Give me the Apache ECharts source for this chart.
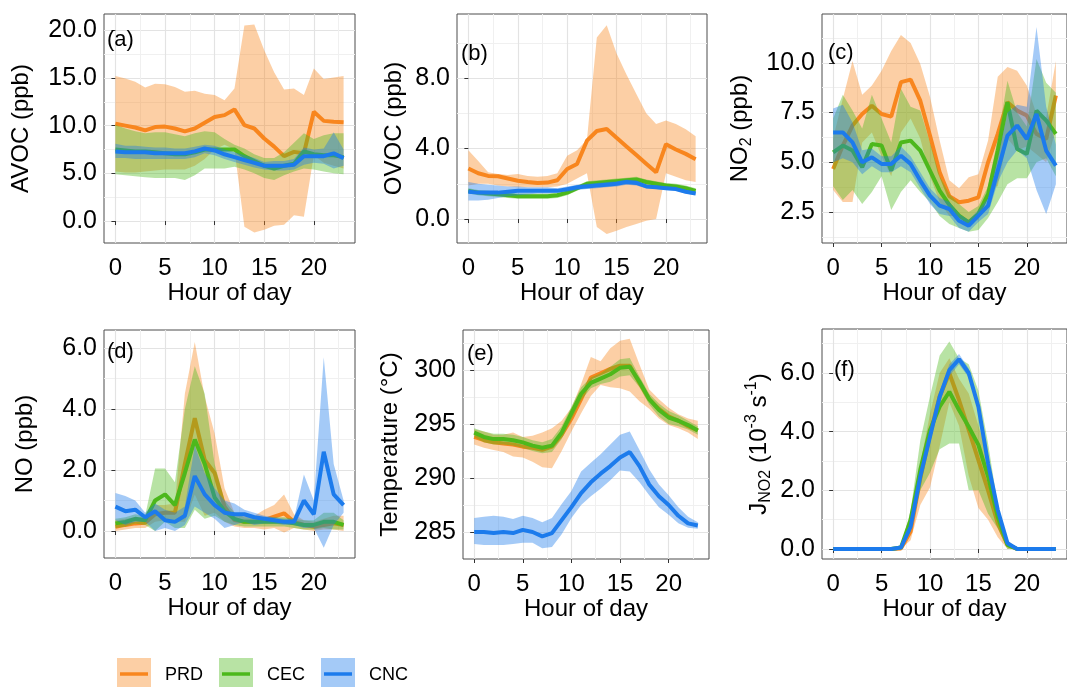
<!DOCTYPE html>
<html>
<head>
<meta charset="utf-8">
<script src="https://cdn.jsdelivr.net/npm/echarts@6/dist/echarts.min.js"></script>
<style>
  html, body { margin: 0; padding: 0; background: #fff; }
  #main { width: 1067px; height: 687px; }
</style>
</head>
<body>
<div id="main"></div>
<script>
const hours = [0, 1, 2, 3, 4, 5, 6, 7, 8, 9, 10, 11, 12, 13, 14, 15, 16, 17, 18, 19, 20, 21, 22, 23];
const hourTicks = [0, 5, 10, 15, 20];
const hourMinor = [2.5, 7.5, 12.5, 17.5, 22.5];

// (a) AVOC
const avocPrd = [10.2, 10.0, 9.8, 9.5, 9.85, 9.9, 9.7, 9.4, 9.7, 10.3, 10.9, 11.1, 11.7, 10.05, 9.7, 8.65, 7.8, 6.8, 7.25, 7.1, 11.45, 10.5, 10.4, 10.35];
const avocPrdLo = [5.2, 5.1, 5.1, 5.2, 5.3, 5.4, 5.4, 5.4, 5.8, 6.5, 7.5, 8.0, 7.5, -0.6, -1.2, -0.9, -0.5, -0.4, 0.6, 0.45, 6.9, 6.1, 5.8, 5.5];
const avocPrdHi = [15.2, 14.95, 14.6, 14.0, 14.4, 14.35, 14.05, 13.55, 13.65, 13.35, 13.2, 12.65, 13.9, 20.5, 20.6, 17.9, 15.6, 13.8, 13.9, 13.2, 16.0, 14.9, 15.05, 15.2];
const avocCec = [7.5, 7.4, 7.3, 7.3, 7.2, 7.1, 7.0, 7.0, 7.2, 7.5, 7.5, 7.5, 7.5, 6.8, 6.3, 5.8, 5.5, 5.8, 6.0, 7.3, 7.0, 6.9, 6.9, 6.7];
const avocCecLo = [4.9, 4.8, 4.7, 4.6, 4.5, 4.5, 4.5, 4.3, 4.8, 5.5, 5.5, 5.5, 5.7, 5.4, 5.0, 4.5, 4.3, 4.8, 5.2, 5.5, 5.4, 5.2, 5.0, 4.9];
const avocCecHi = [10.1, 9.7, 9.4, 9.2, 9.3, 9.3, 9.1, 8.9, 9.2, 9.4, 9.3, 8.6, 8.0, 7.6, 7.0, 6.6, 6.6, 7.2, 8.2, 9.2, 8.6, 9.0, 9.2, 9.2];
const avocCnc = [7.3, 7.2, 7.2, 7.2, 7.1, 7.1, 7.1, 7.1, 7.3, 7.6, 7.4, 7.0, 6.7, 6.4, 6.1, 5.8, 5.8, 5.8, 5.9, 6.8, 6.8, 6.8, 7.1, 6.6];
const avocCncLo = [6.6, 6.6, 6.5, 6.5, 6.5, 6.5, 6.5, 6.5, 6.7, 7.1, 6.9, 6.5, 6.2, 5.9, 5.6, 5.4, 5.3, 5.3, 5.4, 5.9, 6.1, 6.0, 5.5, 5.8];
const avocCncHi = [8.1, 7.9, 7.9, 7.8, 7.7, 7.7, 7.6, 7.6, 7.8, 8.0, 7.9, 7.5, 7.2, 6.9, 6.6, 6.2, 6.3, 6.3, 6.5, 7.7, 7.5, 7.6, 9.3, 7.5];

// (b) OVOC
const ovocPrd = [2.87, 2.6, 2.45, 2.43, 2.3, 2.17, 2.1, 2.05, 2.07, 2.2, 2.84, 3.12, 4.45, 5.0, 5.11, 4.61, 4.12, 3.63, 3.14, 2.65, 4.25, 3.95, 3.7, 3.4];
const ovocPrdLo = [1.9, 2.0, 2.0, 1.9, 1.85, 1.8, 1.8, 1.8, 1.8, 1.85, 2.0, 2.3, 2.6, -0.45, -0.85, -0.66, -0.45, -0.28, -0.1, 0.0, 2.6, 2.4, 2.2, 2.1];
const ovocPrdHi = [3.9, 3.3, 2.65, 2.55, 2.5, 2.55, 2.45, 2.4, 2.45, 2.6, 3.6, 3.9, 4.5, 10.3, 11.0, 9.4, 8.2, 7.1, 6.0, 5.4, 5.6, 5.4, 5.1, 4.7];
const ovocCec = [1.6, 1.5, 1.45, 1.4, 1.35, 1.3, 1.3, 1.3, 1.3, 1.35, 1.5, 1.75, 2.0, 2.05, 2.1, 2.15, 2.2, 2.25, 2.1, 2.0, 1.9, 1.85, 1.75, 1.6];
const ovocCecLo = [1.45, 1.35, 1.3, 1.25, 1.2, 1.15, 1.15, 1.15, 1.15, 1.2, 1.35, 1.6, 1.85, 1.9, 1.95, 2.0, 2.05, 2.1, 1.95, 1.85, 1.75, 1.7, 1.6, 1.45];
const ovocCecHi = [1.75, 1.65, 1.6, 1.55, 1.5, 1.45, 1.45, 1.45, 1.45, 1.5, 1.65, 1.9, 2.15, 2.2, 2.25, 2.3, 2.35, 2.4, 2.25, 2.15, 2.05, 2.0, 1.9, 1.75];
const ovocCnc = [1.55, 1.5, 1.5, 1.5, 1.55, 1.6, 1.6, 1.6, 1.6, 1.6, 1.7, 1.8, 1.85, 1.9, 1.95, 2.0, 2.1, 2.05, 1.85, 1.8, 1.75, 1.7, 1.55, 1.45];
const ovocCncLo = [1.05, 1.05, 1.1, 1.2, 1.3, 1.35, 1.4, 1.45, 1.45, 1.5, 1.55, 1.65, 1.7, 1.75, 1.8, 1.85, 1.95, 1.9, 1.75, 1.7, 1.65, 1.6, 1.45, 1.35];
const ovocCncHi = [2.1, 2.0, 1.95, 1.9, 1.85, 1.85, 1.8, 1.8, 1.8, 1.75, 1.85, 1.95, 2.0, 2.05, 2.1, 2.15, 2.25, 2.2, 1.95, 1.9, 1.85, 1.8, 1.65, 1.55];

// (c) NO2
const no2Prd = [4.66, 5.84, 6.85, 7.43, 7.85, 7.43, 7.3, 9.03, 9.16, 8.1, 6.35, 4.5, 3.3, 2.99, 3.07, 3.24, 5.0, 6.43, 8.02, 7.6, 7.35, 6.43, 6.17, 8.36];
const no2PrdLo = [3.6, 3.0, 3.0, 6.0, 6.5, 5.3, 4.3, 6.5, 7.2, 6.2, 4.3, 3.0, 2.3, 2.3, 2.0, 2.1, 3.7, 3.8, 6.2, 5.6, 5.8, 5.4, 5.0, 6.6];
const no2PrdHi = [6.2, 8.2, 10.1, 8.4, 8.86, 9.6, 10.6, 11.4, 11.0, 9.95, 8.3, 6.1, 4.1, 3.7, 4.25, 4.4, 6.1, 9.3, 9.8, 9.6, 8.86, 7.43, 7.26, 10.1];
const no2Cec = [5.5, 5.84, 5.59, 4.75, 5.92, 5.84, 4.58, 6.0, 6.09, 5.59, 4.58, 3.57, 2.86, 2.32, 1.98, 2.4, 3.4, 5.59, 8.02, 5.67, 5.42, 7.6, 7.1, 6.43];
const no2CecLo = [3.8, 3.1, 3.6, 2.9, 3.5, 4.3, 2.6, 3.5, 4.1, 3.5, 3.0, 2.3, 1.9, 1.7, 1.5, 1.6, 2.2, 3.0, 3.9, 4.2, 4.2, 5.0, 5.2, 4.3];
const no2CecHi = [7.2, 8.4, 7.6, 6.7, 8.4, 7.2, 6.0, 8.7, 7.8, 7.6, 6.0, 4.3, 3.4, 2.9, 2.5, 2.8, 3.8, 6.2, 9.1, 7.5, 6.8, 10.2, 9.0, 8.5];
const no2Cnc = [6.5, 6.5, 6.0, 5.0, 5.25, 4.92, 4.92, 5.33, 4.92, 4.08, 3.32, 2.82, 2.65, 2.06, 1.81, 2.32, 2.82, 4.58, 6.34, 6.85, 6.17, 7.43, 5.59, 4.83];
const no2CncLo = [5.0, 5.2, 5.0, 4.4, 4.8, 4.5, 4.5, 4.8, 4.5, 3.7, 2.9, 2.4, 2.3, 1.7, 1.5, 2.0, 2.4, 4.0, 5.0, 5.6, 5.2, 3.6, 2.4, 3.9];
const no2CncHi = [7.7, 7.9, 7.0, 5.6, 5.7, 5.3, 5.3, 5.8, 5.3, 4.5, 3.7, 3.2, 3.0, 2.4, 2.1, 2.6, 3.2, 5.2, 7.5, 7.9, 7.8, 11.8, 7.8, 5.9];

// (d) NO
const noPrd = [0.14, 0.2, 0.25, 0.27, 0.55, 0.6, 0.6, 2.2, 3.7, 2.33, 1.9, 0.8, 0.36, 0.3, 0.3, 0.36, 0.47, 0.58, 0.3, 0.2, 0.14, 0.2, 0.25, 0.2];
const noPrdLo = [0.0, 0.05, 0.1, 0.1, 0.3, 0.35, 0.3, 0.3, 1.2, 0.5, 0.6, 0.3, 0.15, 0.1, 0.1, 0.05, 0.1, -0.05, 0.1, 0.05, 0.0, 0.05, 0.05, 0.0];
const noPrdHi = [0.35, 0.4, 0.45, 0.45, 0.85, 0.85, 0.9, 4.5, 6.2, 4.4, 3.2, 1.4, 0.6, 0.5, 0.5, 0.7, 0.85, 1.2, 0.55, 0.35, 0.3, 0.4, 0.5, 0.5];
const noCec = [0.25, 0.3, 0.4, 0.35, 1.0, 1.2, 0.85, 1.9, 3.0, 2.2, 1.1, 0.65, 0.4, 0.3, 0.3, 0.3, 0.3, 0.3, 0.25, 0.2, 0.2, 0.3, 0.3, 0.2];
const noCecLo = [0.1, 0.15, 0.25, 0.2, 0.0, 0.3, 0.1, 0.1, 0.7, 0.4, 0.5, 0.3, 0.2, 0.15, 0.15, 0.15, 0.15, 0.15, 0.1, 0.05, 0.05, 0.1, 0.05, 0.05];
const noCecHi = [0.4, 0.45, 0.55, 0.5, 2.05, 2.05, 1.6, 4.0, 5.4, 4.5, 2.2, 1.0, 0.6, 0.45, 0.45, 0.45, 0.45, 0.45, 0.4, 0.35, 0.35, 0.6, 0.6, 0.35];
const noCnc = [0.8, 0.65, 0.7, 0.45, 0.65, 0.35, 0.3, 0.5, 1.8, 1.2, 0.85, 0.6, 0.55, 0.55, 0.45, 0.4, 0.35, 0.3, 0.3, 1.0, 0.55, 2.6, 1.2, 0.85];
const noCncLo = [0.35, 0.2, 0.3, 0.3, 0.0, 0.1, 0.0, 0.2, 0.8, 0.6, 0.4, 0.1, 0.2, 0.3, 0.2, 0.25, 0.25, 0.2, 0.2, 0.1, 0.1, -0.55, 0.2, 0.6];
const noCncHi = [1.25, 1.15, 1.0, 0.6, 0.9, 0.7, 0.6, 0.8, 2.8, 1.9, 1.4, 1.0, 0.9, 0.7, 0.6, 0.5, 0.45, 0.4, 0.4, 1.85, 1.0, 5.7, 2.2, 1.0];

// (e) Temperature
const tempPrd = [293.8, 293.5, 293.3, 293.2, 293.1, 292.9, 292.8, 292.6, 292.9, 294.0, 295.5, 297.3, 299.3, 299.7, 300.1, 300.4, 300.4, 298.8, 297.3, 296.4, 295.7, 295.3, 294.8, 294.4];
const tempPrdLo = [293.1, 292.8, 292.6, 292.4, 292.0, 291.9, 291.5, 291.0, 290.9, 292.5, 294.3, 296.0, 297.6, 298.6, 298.4, 298.3, 298.0, 297.1, 296.4, 295.5, 294.9, 294.6, 294.2, 293.6];
const tempPrdHi = [294.5, 294.3, 294.0, 294.0, 294.2, 293.8, 293.9, 294.2, 294.6, 295.3, 296.5, 298.7, 301.2, 300.8, 302.0, 302.7, 302.9, 300.5, 298.2, 297.3, 296.5, 295.9, 295.5, 295.3];
const tempCec = [294.2, 293.8, 293.6, 293.6, 293.5, 293.3, 293.0, 292.8, 293.0, 294.2, 296.0, 297.8, 298.8, 299.2, 299.6, 300.2, 300.3, 298.9, 297.3, 296.3, 295.6, 295.3, 294.9, 294.4];
const tempCecLo = [293.8, 293.3, 293.1, 293.1, 293.0, 292.8, 292.5, 292.3, 292.4, 293.6, 295.4, 297.2, 298.3, 298.7, 298.9, 299.4, 299.5, 298.4, 296.8, 295.7, 295.0, 294.8, 294.5, 294.0];
const tempCecHi = [294.6, 294.3, 294.1, 294.1, 294.0, 293.8, 293.5, 293.3, 293.6, 294.8, 296.6, 298.4, 299.3, 299.7, 300.3, 301.0, 301.1, 299.4, 297.8, 296.9, 296.2, 295.8, 295.3, 294.8];
const tempCnc = [285.0, 285.0, 284.9, 285.0, 284.9, 285.2, 285.0, 284.6, 284.9, 286.1, 287.3, 288.6, 289.6, 290.4, 291.1, 291.9, 292.4, 291.1, 289.4, 288.3, 287.5, 286.5, 285.8, 285.6];
const tempCncLo = [283.9, 283.8, 283.8, 283.8, 283.9, 284.0, 284.0, 283.5, 283.6, 284.8, 286.3, 287.5, 288.3, 289.0, 289.8, 290.7, 290.6, 289.6, 288.4, 287.3, 286.6, 285.8, 285.4, 285.3];
const tempCncHi = [286.3, 286.4, 286.5, 286.4, 286.2, 286.5, 286.3, 285.9, 286.3, 287.6, 288.8, 290.6, 291.4, 292.2, 293.1, 294.0, 294.3, 292.6, 290.8, 289.4, 288.4, 287.3, 286.4, 285.9];

// (f) J(NO2)
const jno2Prd = [0, 0, 0, 0, 0, 0, 0, 0.02, 0.6, 2.4, 3.9, 5.2, 5.99, 5.08, 4.06, 3.03, 2.0, 0.88, 0.15, 0, 0, 0, 0, 0];
const jno2PrdLo = [0, 0, 0, 0, 0, 0, 0, 0, 0.3, 1.5, 2.1, 3.5, 5.0, 4.2, 2.5, 1.4, 1.0, 0.4, 0, 0, 0, 0, 0, 0];
const jno2PrdHi = [0, 0, 0, 0, 0, 0, 0, 0.05, 0.9, 2.9, 4.6, 6.0, 6.5, 5.8, 5.3, 4.2, 3.2, 1.4, 0.3, 0, 0, 0, 0, 0];
const jno2Cec = [0, 0, 0, 0, 0, 0, 0, 0.05, 0.99, 2.7, 4.06, 4.85, 5.36, 4.74, 4.17, 3.55, 2.47, 1.1, 0.14, 0, 0, 0, 0, 0];
const jno2CecLo = [0, 0, 0, 0, 0, 0, 0, 0, 0.6, 2.0, 2.6, 3.4, 3.6, 3.6, 2.0, 2.0, 1.2, 0.7, 0, 0, 0, 0, 0, 0];
const jno2CecHi = [0, 0, 0, 0, 0, 0, 0, 0.1, 1.3, 3.7, 5.2, 6.6, 7.07, 6.5, 6.3, 5.4, 3.6, 1.5, 0.3, 0, 0, 0, 0, 0];
const jno2Cnc = [0, 0, 0, 0, 0, 0, 0, 0.05, 0.76, 2.47, 3.83, 5.19, 6.1, 6.47, 6.0, 4.85, 2.92, 1.33, 0.2, 0, 0, 0, 0, 0];
const jno2CncLo = [0, 0, 0, 0, 0, 0, 0, 0, 0.6, 2.3, 3.65, 5.0, 5.9, 6.3, 5.85, 4.7, 2.8, 1.2, 0.1, 0, 0, 0, 0, 0];
const jno2CncHi = [0, 0, 0, 0, 0, 0, 0, 0.1, 0.9, 2.65, 4.0, 5.35, 6.3, 6.65, 6.15, 5.0, 3.05, 1.45, 0.3, 0, 0, 0, 0, 0];

const regions = ['PRD', 'CEC', 'CNC'];
const colors = ['#F8861E', '#4DB81C', '#1C7BEC'];
const FONT = 'Liberation Sans, Arial, sans-serif';

const rich = {
  n: { fontSize: 24, fontFamily: FONT, color: '#000', lineHeight: 30, verticalAlign: 'middle' },
  s: { fontSize: 16, fontFamily: FONT, color: '#000', lineHeight: 16, verticalAlign: 'bottom' },
  p: { fontSize: 16, fontFamily: FONT, color: '#000', lineHeight: 20, verticalAlign: 'top' }
}

const panels = [
  { tag: '(a)', tagPos: [107, 29], name: '{n|AVOC (ppb)}', nameGap: 68,
    grid: { left: 104, top: 14, width: 251, height: 229 },
    y: [-2.3, 21.7], major: [0, 5, 10, 15, 20], minor: [2.5, 7.5, 12.5, 17.5], digits: 1,
    data: [[avocPrd, avocPrdLo, avocPrdHi], [avocCec, avocCecLo, avocCecHi], [avocCnc, avocCncLo, avocCncHi]] },
  { tag: '(b)', tagPos: [461, 43], name: '{n|OVOC (ppb)}', nameGap: 48,
    grid: { left: 457, top: 14, width: 250, height: 229 },
    y: [-1.36, 11.64], major: [0, 4, 8], minor: [2, 6, 10], digits: 1,
    data: [[ovocPrd, ovocPrdLo, ovocPrdHi], [ovocCec, ovocCecLo, ovocCecHi], [ovocCnc, ovocCncLo, ovocCncHi]] },
  { tag: '(c)', tagPos: [828, 42], name: '{n|NO}{s|2}{n| (ppb)}', nameGap: 67,
    grid: { left: 822, top: 14, width: 253, height: 229 },
    y: [0.94, 12.46], major: [2.5, 5, 7.5, 10], minor: [1.25, 3.75, 6.25, 8.75, 11.25], digits: 1,
    data: [[no2Prd, no2PrdLo, no2PrdHi], [no2Cec, no2CecLo, no2CecHi], [no2Cnc, no2CncLo, no2CncHi]] },
  { tag: '(d)', tagPos: [107, 341], name: '{n|NO (ppb)}', nameGap: 64,
    grid: { left: 104, top: 330, width: 251, height: 228 },
    y: [-0.885, 6.59], major: [0, 2, 4, 6], minor: [1, 3, 5], digits: 1,
    data: [[noPrd, noPrdLo, noPrdHi], [noCec, noCecLo, noCecHi], [noCnc, noCncLo, noCncHi]] },
  { tag: '(e)', tagPos: [467, 343], name: '{n|Temperature (°C)}', nameGap: 58,
    grid: { left: 463, top: 330, width: 246, height: 229 },
    y: [282.5, 303.7], major: [285, 290, 295, 300], minor: [287.5, 292.5, 297.5, 302.5], digits: 0,
    data: [[tempPrd, tempPrdLo, tempPrdHi], [tempCec, tempCecLo, tempCecHi], [tempCnc, tempCncLo, tempCncHi]] },
  { tag: '(f)', tagPos: [834, 359], name: '{n|J}{s|NO2}{n| (10}{p|-3}{n| s}{p|-1}{n|)}', nameGap: 48,
    grid: { left: 822, top: 329, width: 253, height: 230 },
    y: [-0.34, 7.5], major: [0, 2, 4, 6], minor: [1, 3, 5, 7], digits: 1,
    data: [[jno2Prd, jno2PrdLo, jno2PrdHi], [jno2Cec, jno2CecLo, jno2CecHi], [jno2Cnc, jno2CncLo, jno2CncHi]] }
];

// ribbon drawn as one polygon through the axis scales (upper edge, then lower edge back)
function ribbon(color) {
  return function (params, api) {
    if (params.dataIndexInside !== 0) return null;
    const n = params.dataInsideLength;
    const upper = [], lower = [];
    for (let j = 0; j < n; j++) {
      upper.push(api.coord([api.value(0, j), api.value(2, j)]));
      lower.push(api.coord([api.value(0, j), api.value(1, j)]));
    }
    return {
      type: 'polygon',
      shape: { points: upper.concat(lower.reverse()) },
      style: { fill: color, opacity: 0.4 }
    };
  };
}

const grid = [], xAxis = [], yAxis = [], series = [], title = [];

panels.forEach((p, i) => {
  grid.push(Object.assign({ show: true, borderColor: '#4d4d4d', borderWidth: 1, backgroundColor: 'transparent' }, p.grid));
  title.push({ text: p.tag, left: p.tagPos[0], top: p.tagPos[1], padding: 0,
    textStyle: { fontSize: 22, fontWeight: 'normal', color: '#000', fontFamily: FONT } });

  // main axes (labels, ticks, major grid)
  xAxis.push({
    gridIndex: i, type: 'value', min: -1.15, max: 24.15,
    name: 'Hour of day', nameLocation: 'middle', nameGap: 38,
    nameTextStyle: { fontSize: 24, color: '#000', fontFamily: FONT },
    axisLine: { show: false },
    axisTick: { show: true, length: 4, customValues: hourTicks, lineStyle: { color: '#333' } },
    axisLabel: { customValues: hourTicks, fontSize: 24, color: '#000', margin: 13, fontFamily: FONT },
    splitLine: { show: true, lineStyle: { color: '#e3e3e3', width: 1.2 } }
  });
  // minor grid
  xAxis.push({
    gridIndex: i, type: 'value', min: -1.15, max: 24.15,
    axisLine: { show: false },
    axisTick: { show: false, customValues: hourMinor },
    axisLabel: { show: false, customValues: hourMinor },
    splitLine: { show: true, lineStyle: { color: '#f0f0f0', width: 1 } }
  });
  yAxis.push({
    gridIndex: i, type: 'value', min: p.y[0], max: p.y[1],
    name: p.name, nameLocation: 'middle', nameGap: p.nameGap,
    nameTextStyle: { rich: rich },
    axisLine: { show: false },
    axisTick: { show: true, length: 4, customValues: p.major, lineStyle: { color: '#333' } },
    axisLabel: { customValues: p.major, fontSize: 25, color: '#000', margin: 7, fontFamily: FONT,
      formatter: v => v.toFixed(p.digits) },
    splitLine: { show: true, lineStyle: { color: '#e3e3e3', width: 1.2 } }
  });
  yAxis.push({
    gridIndex: i, type: 'value', min: p.y[0], max: p.y[1],
    axisLine: { show: false },
    axisTick: { show: false, customValues: p.minor },
    axisLabel: { show: false, customValues: p.minor },
    splitLine: { show: true, lineStyle: { color: '#f0f0f0', width: 1 } }
  });

  p.data.forEach(([mean, lo, hi], k) => {
    series.push({
      type: 'custom', name: regions[k], xAxisIndex: 2 * i, yAxisIndex: 2 * i, silent: true,
      z: 2 + 2 * k, renderItem: ribbon(colors[k]),
      encode: { x: 0, y: [1, 2] },
      data: hours.map((h, j) => [h, lo[j], hi[j]])
    });
    series.push({
      type: 'line', name: regions[k], xAxisIndex: 2 * i, yAxisIndex: 2 * i, silent: true,
      z: 3 + 2 * k, symbol: 'none',
      data: hours.map((h, j) => [h, mean[j]]),
      lineStyle: { color: colors[k], width: 4 }
    });
  });
});

// legend keys at the bottom (filled box + line + label)
const keyX = [117, 219, 321];
const graphic = [];
regions.forEach((r, k) => {
  graphic.push({ type: 'rect', shape: { x: keyX[k], y: 658, width: 34, height: 34 },
    style: { fill: colors[k], opacity: 0.4 } });
  graphic.push({ type: 'line', shape: { x1: keyX[k] + 3, y1: 674, x2: keyX[k] + 31, y2: 674 },
    style: { stroke: colors[k], lineWidth: 3.5 } });
  graphic.push({ type: 'text', x: keyX[k] + 48, y: 675,
    style: { text: r, fill: '#000', font: '18px ' + FONT, verticalAlign: 'middle' } });
});

const chart = echarts.init(document.getElementById('main'));
chart.setOption({
  animation: false,
  backgroundColor: '#fff',
  title: title,
  grid: grid,
  xAxis: xAxis,
  yAxis: yAxis,
  series: series,
  graphic: graphic
});
</script>
</body>
</html>
